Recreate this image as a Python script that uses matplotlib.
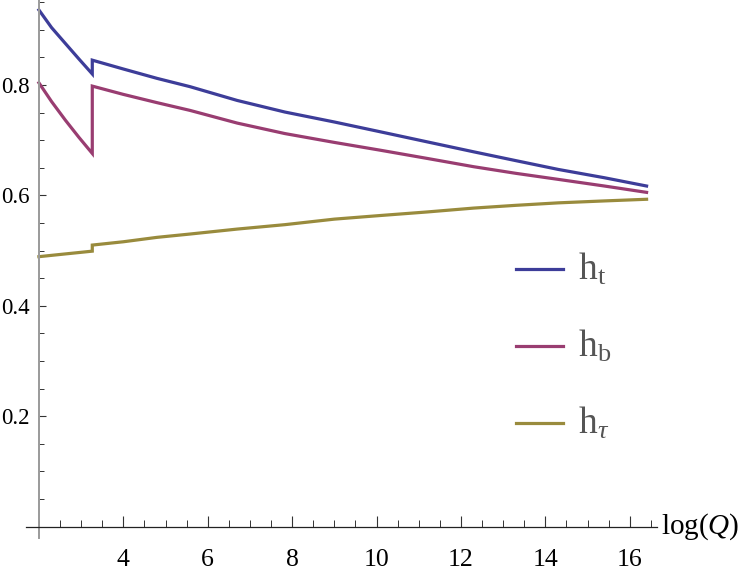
import matplotlib
matplotlib.use("Agg")
import matplotlib.pyplot as plt
from matplotlib.ticker import MultipleLocator
from matplotlib.lines import Line2D
import matplotlib.transforms as mtrans

plt.rcParams['font.family'] = ['Liberation Serif', 'DejaVu Serif']
plt.rcParams['mathtext.fontset'] = 'custom'
plt.rcParams['mathtext.rm'] = 'Liberation Serif'
plt.rcParams['mathtext.it'] = 'Liberation Serif:italic'

# ---- data ----
x_low = [2.0, 2.3, 2.63, 2.95, 3.265]
x_high = [3.265, 4.0, 4.8, 5.58, 6.7, 7.83, 9.0, 10.08, 11.2, 12.3, 13.3, 14.31, 15.4, 16.4]

ht_low = [0.936, 0.904, 0.875, 0.847, 0.820]
ht_high = [0.845, 0.829, 0.812, 0.797, 0.772, 0.751, 0.733, 0.7154, 0.697, 0.679, 0.663, 0.647, 0.632, 0.617]

hb_low = [0.804, 0.770, 0.736, 0.705, 0.676]
hb_high = [0.798, 0.783, 0.768, 0.754, 0.731, 0.712, 0.696, 0.682, 0.667, 0.652, 0.640, 0.629, 0.617, 0.6055]

htau_low = [0.489, 0.4914, 0.4940, 0.4965, 0.499]
htau_high = [0.510, 0.516, 0.524, 0.530, 0.539, 0.547, 0.557, 0.5635, 0.570, 0.577, 0.582, 0.5865, 0.590, 0.593]

labels = [r'$\mathrm{h}_{\mathrm{t}}$', r'$\mathrm{h}_{\mathrm{b}}$', r'$\mathrm{h}_{\tau}$']
colors = ['#3d3d99', '#993d71', '#998b3d']
xticks = [4, 6, 8, 10, 12, 14, 16]
yticks = [0.2, 0.4, 0.6, 0.8]

# ---- figure ----
W, H = 747, 581
fig = plt.figure(figsize=(W / 100, H / 100), dpi=100)
px_l, px_r, px_t, px_b = 26, 657, 0, 538
ax = fig.add_axes([px_l / W, (H - px_b) / H, (px_r - px_l) / W, (px_b - px_t) / H])

# pixel -> data calibration
x0_px, x_scale = 38.9, 42.2      # px of x=2, px per unit
y0_px, y_scale = 526.6, 552.0    # px of y=0, px per unit
ax.set_xlim(2 + (px_l - x0_px) / x_scale, 2 + (px_r - x0_px) / x_scale)
ax.set_ylim((y0_px - px_b) / y_scale, (y0_px - px_t) / y_scale)

series = [(ht_low, ht_high), (hb_low, hb_high), (htau_low, htau_high)]
for (lo, hi), c in zip(series, colors):
    ax.plot(x_low + x_high, lo + hi, color=c, lw=2.3, solid_joinstyle='miter')

# Mathematica-style axes
for s in ['top', 'right']:
    ax.spines[s].set_visible(False)
ax.spines['left'].set_position(('data', 2))
ax.spines['bottom'].set_position(('data', 0))
ax.spines['left'].set_color('#9a9a9a')
ax.spines['left'].set_linewidth(1.4)
ax.spines['bottom'].set_color('#222222')
ax.spines['bottom'].set_linewidth(0.9)

ax.set_xticks(xticks)
ax.set_xticklabels([str(v) for v in xticks], fontfamily='Liberation Serif')
ax.xaxis.set_minor_locator(MultipleLocator(0.5))
ax.set_yticks(yticks)
ax.set_yticklabels([f'{v:.1f}' for v in yticks], fontfamily='Liberation Serif')
ax.yaxis.set_minor_locator(MultipleLocator(0.05))

ax.tick_params(axis='x', which='major', direction='in', length=8, width=0.8,
               labelsize=18.5, pad=16, color='#333333')
ax.tick_params(axis='x', which='minor', direction='in', length=5, width=0.7, color='#333333')
ax.tick_params(axis='y', which='major', direction='in', length=5, width=0.8,
               labelsize=16.5, pad=6.5, color='#333333')
ax.tick_params(axis='y', which='minor', direction='in', length=3.5, width=0.7, color='#333333')

tr = mtrans.blended_transform_factory(ax.transAxes, ax.transData)
ax.text(1.007, 0.0, r'$\mathrm{log}(Q)$', transform=tr, fontsize=21, va='center', ha='left')

# legend drawn in figure pixel coordinates
leg_y = [269, 346, 423]
for yy, c, lab in zip(leg_y, colors, labels):
    fy = 1 - yy / H
    fig.add_artist(Line2D([516 / W, 563 / W], [fy, fy], color=c, lw=2.3,
                          transform=fig.transFigure))
    fig.text(578 / W, fy, lab, fontsize=27, color='#555555', va='center', ha='left')

fig.savefig('out.png', dpi=100)
